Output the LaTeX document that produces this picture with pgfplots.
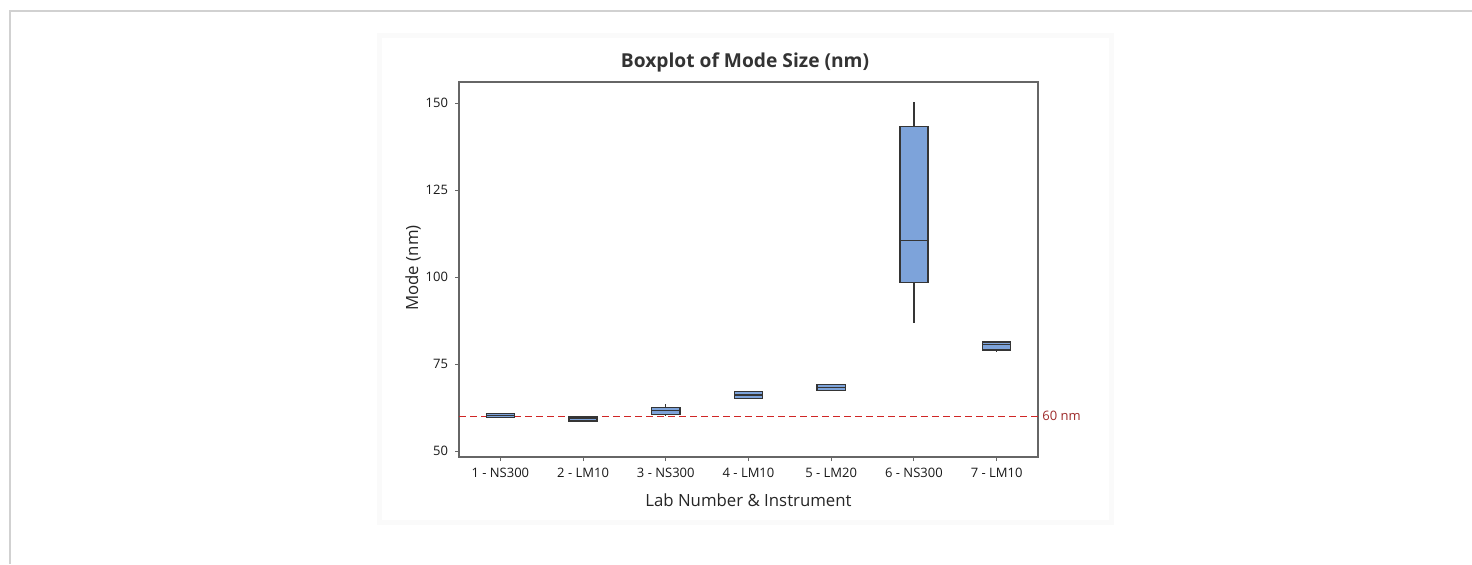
\documentclass[border=0pt]{standalone}
\usepackage{pgfplots}
\pgfplotsset{compat=1.18}
\usepackage{fontspec}
\setmainfont{Open Sans}
\definecolor{boxfill}{HTML}{7DA3DA}
\definecolor{boxedge}{HTML}{353535}
\definecolor{refred}{HTML}{D02626}
\definecolor{labred}{HTML}{9E2A2A}
\pgfplotsset{
  box/.style={draw=boxedge, fill=boxfill, line width=0.7pt},
  med/.style={boxedge, line width=0.7pt},
  whisk/.style={boxedge, line width=0.7pt},
}
\begin{document}
\begin{tikzpicture}
\useasboundingbox (0,0) rectangle (736pt,282pt);
\fill[white] (0,0) rectangle (736pt,282pt);
\draw[black!18, line width=1pt] (5pt,0) -- (5pt,276.5pt) -- (736pt,276.5pt);
\fill[black!2] (188.5pt,19.5pt) rectangle (557pt,265.5pt);
\fill[white] (191pt,22pt) rectangle (554.5pt,263pt);
\begin{axis}[
  at={(229.5pt,53.5pt)}, anchor=south west,
  width=289.5pt, height=187.5pt, scale only axis,
  xmin=0.5, xmax=7.5, ymin=48.3, ymax=156.1,
  xtick={1,2,3,4,5,6,7},
  xticklabels={1 - NS300, 2 - LM10, 3 - NS300, 4 - LM10, 5 - LM20, 6 - NS300, 7 - LM10},
  ytick={50,75,100,125,150},
  tick align=outside, major tick length=2pt,
  tick style={black!60, line width=0.5pt},
  axis line style={black!60, line width=0.6pt},
  xtick pos=bottom, ytick pos=left,
  /pgf/number format/assume math mode=true,
  tick label style={font=\fontsize{6.5}{7}\selectfont, text=black!90},
  every axis title shift=0pt,
  title={Boxplot of Mode Size (nm)},
  title style={at={(axis description cs:0.494,1.051)}, anchor=center, font=\fontsize{9.6}{11}\selectfont\bfseries, text=black!80},
  xlabel={Lab Number \& Instrument},
  xlabel style={at={(axis description cs:0.5,-0.1147)}, anchor=center, font=\fontsize{8.4}{10}\selectfont, text=black!85},
  ylabel={Mode (nm)},
  ylabel style={at={(axis description cs:-0.0794,0.504)}, anchor=center, font=\fontsize{8.4}{10}\selectfont, text=black!85},
  clip=false,
]
\addplot[refred, line width=0.8pt, dash pattern=on 3.5pt off 2pt] coordinates {(0.5,60) (7.5,60)};
% 1 - NS300
\addplot[box] coordinates {(0.83,59.6) (1.17,59.6) (1.17,60.8) (0.83,60.8)} -- cycle;
\addplot[med] coordinates {(0.83,60.2) (1.17,60.2)};
% 2 - LM10
\addplot[box] coordinates {(1.83,58.7) (2.17,58.7) (2.17,59.8) (1.83,59.8)} -- cycle;
\addplot[med] coordinates {(1.83,59.3) (2.17,59.3)};
% 3 - NS300
\addplot[whisk] coordinates {(3,62.57) (3,63.5)};
\addplot[whisk] coordinates {(3,60.2) (3,60.55)};
\addplot[box] coordinates {(2.83,60.55) (3.17,60.55) (3.17,62.57) (2.83,62.57)} -- cycle;
\addplot[med] coordinates {(2.83,61.6) (3.17,61.6)};
% 4 - LM10
\addplot[box] coordinates {(3.83,65.1) (4.17,65.1) (4.17,67.2) (3.83,67.2)} -- cycle;
\addplot[med] coordinates {(3.83,66.1) (4.17,66.1)};
% 5 - LM20
\addplot[box] coordinates {(4.83,67.4) (5.17,67.4) (5.17,69.2) (4.83,69.2)} -- cycle;
\addplot[med] coordinates {(4.83,68.3) (5.17,68.3)};
% 6 - NS300
\addplot[whisk] coordinates {(6,143.3) (6,150.4)};
\addplot[whisk] coordinates {(6,86.9) (6,98.4)};
\addplot[box] coordinates {(5.83,98.4) (6.17,98.4) (6.17,143.3) (5.83,143.3)} -- cycle;
\addplot[med] coordinates {(5.83,110.5) (6.17,110.5)};
% 7 - LM10
\addplot[whisk] coordinates {(7,78.5) (7,79.05)};
\addplot[box] coordinates {(6.83,79.05) (7.17,79.05) (7.17,81.4) (6.83,81.4)} -- cycle;
\addplot[med] coordinates {(6.83,80.7) (7.17,80.7)};
\node[anchor=west, text=labred, font=\fontsize{6.5}{7}\selectfont, inner sep=2pt] at (axis cs:7.5,60) {60 nm};
\end{axis}
\end{tikzpicture}
\end{document}
